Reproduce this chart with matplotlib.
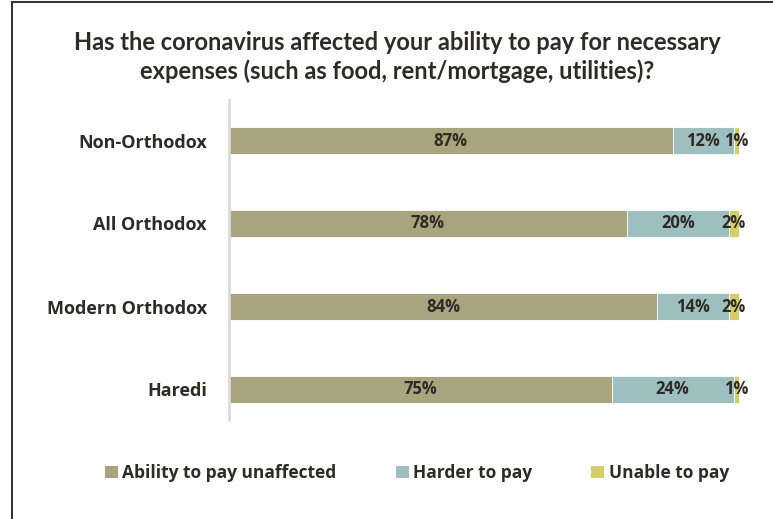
import numpy as np
import matplotlib.pyplot as plt
from matplotlib.patches import Patch, Rectangle

groups = ["Non-Orthodox", "All Orthodox", "Modern Orthodox", "Haredi"]
unaffected = [87, 78, 84, 75]
harder = [12, 20, 14, 24]
unable = [1, 2, 2, 1]

series_names = ["Ability to pay unaffected", "Harder to pay", "Unable to pay"]
colors = ["#a8a47e", "#9dbfc0", "#d4cd6a"]
txt = "#2e2a24"
title_font = "Lato"
font = "Open Sans"

fig = plt.figure(figsize=(7.73, 5.19), dpi=100)
ax = fig.add_axes([229 / 773, 1 - 420 / 519, 510 / 773, 320 / 519])

y = np.arange(len(groups))
left = np.zeros(len(groups))
for vals, name, col in zip([unaffected, harder, unable], series_names, colors):
    vals = np.array(vals, dtype=float)
    ax.barh(y, vals, left=left, height=0.325, color=col, label=name,
            edgecolor="white", linewidth=0.6)
    for yi, l, v in zip(y, left, vals):
        ax.text(l + v / 2, yi, f"{int(v)}%", ha="center", va="center",
                fontsize=12, fontweight="bold", color=txt, family=font)
    left += vals

ax.set_xlim(0, 100)
ax.set_ylim(3 + 30.5 / 83, -40.5 / 83)
ax.set_yticks(y)
ax.set_yticklabels(groups, fontsize=13, fontweight="bold", color=txt, family=font)
ax.tick_params(axis="y", length=0, pad=16)
ax.set_xticks([])
for s in ["top", "right", "bottom"]:
    ax.spines[s].set_visible(False)
ax.spines["left"].set_color("#dcdad6")
ax.spines["left"].set_linewidth(2)

fig.text(397 / 773, 1 - 57 / 519,
         "Has the coronavirus affected your ability to pay for necessary\n"
         "expenses (such as food, rent/mortgage, utilities)?",
         ha="center", va="center", fontsize=17, fontweight="bold",
         color=txt, family=title_font, linespacing=1.3)

handles = [Patch(facecolor=c, edgecolor="none") for c in colors]
leg = fig.legend(handles, series_names, loc="center", ncol=3,
                 bbox_to_anchor=(417 / 773, 1 - 473 / 519), frameon=False,
                 handlelength=0.75, handleheight=0.75, handletextpad=0.25,
                 columnspacing=3.4,
                 prop={"family": font, "weight": "bold", "size": 12.5})
for t in leg.get_texts():
    t.set_color(txt)

# dark frame along the top and left edges
fig.add_artist(Rectangle((11 / 773, 0), 2 / 773, 1 - 1 / 519,
                         transform=fig.transFigure, color="#38342a", lw=0))
fig.add_artist(Rectangle((11 / 773, 1 - 3 / 519), 1, 2 / 519,
                         transform=fig.transFigure, color="#38342a", lw=0))

fig.savefig("out.png", dpi=100)
